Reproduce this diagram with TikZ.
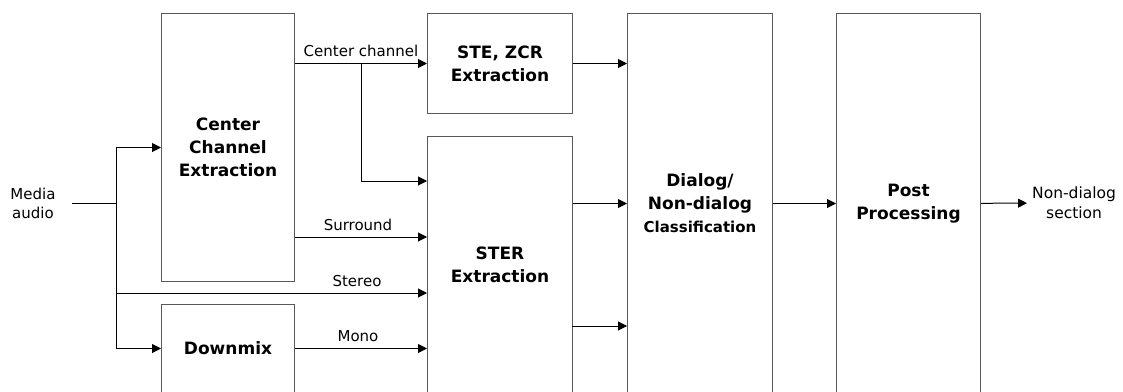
\documentclass[tikz,border=0pt]{standalone}
\usepackage{fontspec}
\setmainfont{DejaVu Sans}
\usetikzlibrary{arrows.meta, positioning}

\begin{document}
\begin{tikzpicture}[
  x=1pt, y=-1pt,
  box/.style={rectangle, draw=black!65, line width=1pt, anchor=north west, align=center,
              inner sep=0pt, font=\fontsize{17}{23}\selectfont\bfseries},
  lbl/.style={font=\fontsize{15}{19}\selectfont, inner sep=2pt},
  arr/.style={-{Triangle[length=9pt, width=9pt]}, line width=1pt, black}
]
\clip (0,0) rectangle (1123,391);

% blocks
\node[box, minimum width=133pt, minimum height=268pt] (cce)  at (161,13)  {Center\\Channel\\Extraction};
\node[box, minimum width=133pt, minimum height=88pt]  (dmx)  at (161,304) {Downmix};
\node[box, minimum width=145pt, minimum height=100pt] (ste)  at (427,13)  {STE, ZCR\\Extraction};
\node[box, minimum width=145pt, minimum height=257pt] (ster) at (427,136) {STER\\Extraction};
\node[box, minimum width=145pt, minimum height=380pt] (dlg)  at (627,13)
  {Dialog/\\Non-dialog\\{\fontsize{15}{23}\selectfont Classification}};
\node[box, minimum width=144pt, minimum height=380pt] (post) at (836,13)  {Post\\Processing};

% in / out
\node[lbl, align=center, minimum width=78pt] (media) at (33,203) {Media\\audio};
\node[lbl, align=center, anchor=west, inner xsep=5pt, font=\fontsize{15.5}{20}\selectfont]
  (out) at (1027,203) {Non-dialog\\section};

\coordinate (split) at (116,203);
\coordinate (tap) at (361,63);
\coordinate (stin1) at (427,181);
\coordinate (stin2) at (427,237);
\coordinate (stin3) at (427,293);
\coordinate (stout2) at (572,326);

% input side
\draw[line width=1pt] (media.east) -- (split);
\draw[arr] (split) |- (cce.west);
\draw[arr] (split) |- (dmx.west);
\draw[arr] (split |- stin3) -- node[lbl, above=4pt, pos=0.775] {Stereo} (stin3);

% channels
\draw[arr] (cce.east |- ste.west) -- node[lbl, above=4pt] {Center channel} (ste.west);
\draw[arr] (tap) |- (stin1);
\draw[arr] (cce.east |- stin2) -- node[lbl, above=4pt, xshift=-3pt] {Surround} (stin2);
\draw[arr] (dmx.east) -- node[lbl, above=4pt, xshift=-3pt] {Mono} (dmx.east -| ster.west);

% features to classifier
\draw[arr] (ste) -- (ste.east -| dlg.west);
\draw[arr] (ster.east |- dlg.west) -- (dlg.west);
\draw[arr] (stout2) -- (stout2 -| dlg.west);

% output
\draw[arr] (dlg) -- (post);
\draw[arr] (post) -- (out);
\end{tikzpicture}
\end{document}
